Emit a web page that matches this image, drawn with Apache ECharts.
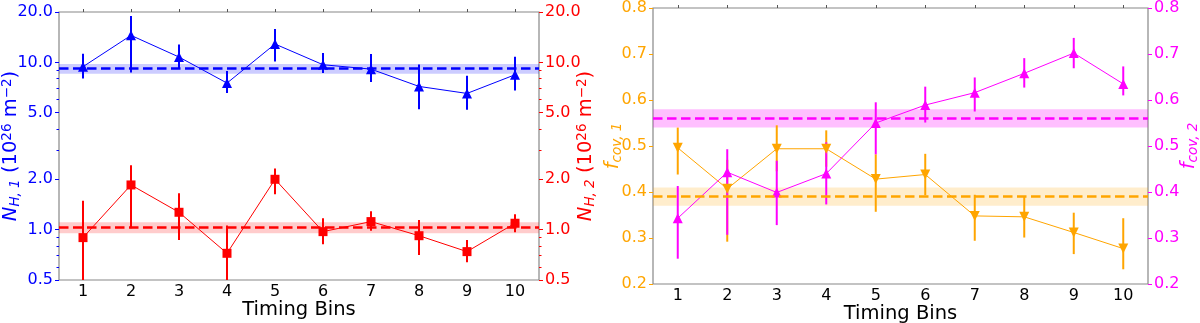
<!DOCTYPE html>
<html lang="en">
<head>
<meta charset="UTF-8">
<title>Timing bins</title>
<script src="https://cdn.jsdelivr.net/npm/echarts@6/dist/echarts.min.js"></script>
<style>
  html, body { margin: 0; padding: 0; background: #fff; }
</style>
</head>
<body>
<div id="main" style="width:1200px;height:323px;"></div>
<script>
// data
var bins = [1, 2, 3, 4, 5, 6, 7, 8, 9, 10];

var nh1   = [9.42, 14.5, 10.76, 7.52, 12.87, 9.68, 9.11, 7.18, 6.52, 8.43];
var nh1Lo = [8.02, 8.71, 9.2, 6.55, 10.13, 8.63, 7.62, 5.25, 5.2, 6.8];
var nh1Hi = [11.26, 18.9, 12.8, 8.87, 15.82, 11.37, 11.2, 9.72, 8.31, 10.81];

var nh2   = [0.896, 1.85, 1.27, 0.722, 2.0, 0.973, 1.117, 0.92, 0.739, 1.092];
var nh2Lo = [0.4, 1.02, 0.868, 0.4, 1.63, 0.817, 0.986, 0.705, 0.638, 0.964];
var nh2Hi = [1.49, 2.43, 1.65, 1.057, 2.32, 1.17, 1.29, 1.143, 0.868, 1.236];

var fcov1   = [0.496, 0.407, 0.494, 0.494, 0.428, 0.438, 0.348, 0.346, 0.312, 0.277];
var fcov1Lo = [0.438, 0.292, 0.445, 0.455, 0.357, 0.393, 0.294, 0.301, 0.265, 0.232];
var fcov1Hi = [0.540, 0.47, 0.545, 0.534, 0.482, 0.483, 0.394, 0.39, 0.355, 0.343];

var fcov2   = [0.343, 0.443, 0.399, 0.44, 0.55, 0.589, 0.616, 0.658, 0.702, 0.635];
var fcov2Lo = [0.255, 0.307, 0.328, 0.373, 0.482, 0.551, 0.575, 0.627, 0.669, 0.61];
var fcov2Hi = [0.413, 0.493, 0.468, 0.508, 0.595, 0.629, 0.649, 0.691, 0.735, 0.673];

// mean values and their ranges
var nh1Mean = 9.2,   nh1Band = [8.55, 9.77];
var nh2Mean = 1.028, nh2Band = [0.95, 1.107];
var fcov1Mean = 0.39, fcov1Band = [0.37, 0.41];
var fcov2Mean = 0.56, fcov2Band = [0.54, 0.58];

var logTicks = [0.5, 1, 2, 5, 10, 20];
var logMinor = [0.6, 0.7, 0.8, 0.9, 3, 4, 6, 7, 8, 9];

var FONT = 'DejaVu Sans';
var SPINE = '#888888';
var BLUE = '#0000ff', RED = '#ff0000', ORANGE = '#ffa500', MAGENTA = '#ff00ff';
var TICK_FS = 16, NAME_FS = 19.5, SUB_FS = 13.5;

function zip(lo, hi) {
    var d = [];
    for (var i = 0; i < bins.length; i++) d.push([bins[i], lo[i], hi[i]]);
    return d;
}
function pts(v) {
    var d = [];
    for (var i = 0; i < bins.length; i++) d.push([bins[i], v[i]]);
    return d;
}

// vertical error bar, clipped to the grid
function errRender(color) {
    return function (params, api) {
        var cs = params.coordSys;
        var a = api.coord([api.value(0), api.value(1)]);
        var b = api.coord([api.value(0), api.value(2)]);
        var top = cs.y, bot = cs.y + cs.height;
        var y1 = Math.min(Math.max(a[1], top), bot);
        var y2 = Math.min(Math.max(b[1], top), bot);
        return {
            type: 'line',
            shape: {x1: a[0], y1: y1, x2: b[0], y2: y2},
            style: {stroke: color, lineWidth: 2}
        };
    };
}

function yName(sym, sub, unit) {
    var s = '{i|' + sym + '}{sub|' + sub + '}';
    if (unit) s += '{n| (10}{sup|26}{n| m}{sup|\u22122}{n|)}';
    return s;
}
function nameStyle(color) {
    return {
        color: color, fontFamily: FONT, fontSize: NAME_FS,
        rich: {
            i:   {color: color, fontFamily: FONT, fontSize: NAME_FS, fontStyle: 'italic', lineHeight: 22, verticalAlign: 'middle'},
            n:   {color: color, fontFamily: FONT, fontSize: NAME_FS, lineHeight: 22, verticalAlign: 'middle'},
            sub: {color: color, fontFamily: FONT, fontSize: SUB_FS, fontStyle: 'italic', lineHeight: 14, verticalAlign: 'bottom', padding: [6, 0, 0, 0]},
            sup: {color: color, fontFamily: FONT, fontSize: SUB_FS, lineHeight: 14, verticalAlign: 'top', padding: [0, 0, 4, 0]}
        }
    };
}

function logAxis(grid, pos, color, name, gap) {
    return {
        type: 'log', logBase: 10, gridIndex: grid, position: pos,
        min: 0.5, max: 20,
        name: name, nameLocation: 'middle', nameGap: gap, nameRotate: 90,
        nameMoveOverlap: false,
        nameTextStyle: nameStyle(color),
        axisLine: {show: false},
        axisTick: {show: true, length: 4, customValues: logTicks, lineStyle: {color: color}},
        axisLabel: {show: true, customValues: logTicks, color: color, fontFamily: FONT, fontSize: TICK_FS, margin: 6,
            formatter: function (v) { return Number(v).toFixed(1); }},
        splitLine: {show: false}
    };
}
function minorAxis(grid, pos, color) {
    return {
        type: 'log', logBase: 10, gridIndex: grid, position: pos,
        min: 0.5, max: 20,
        axisLine: {show: false},
        axisTick: {show: true, length: 2.5, customValues: logMinor, lineStyle: {color: color}},
        axisLabel: {show: false},
        splitLine: {show: false}
    };
}
function linAxis(grid, pos, color, name, gap) {
    return {
        type: 'value', gridIndex: grid, position: pos,
        min: 0.2, max: 0.8, interval: 0.1,
        name: name, nameLocation: 'middle', nameGap: gap, nameRotate: 90,
        nameMoveOverlap: false,
        nameTextStyle: nameStyle(color),
        axisLine: {show: false},
        axisTick: {show: true, length: 4, lineStyle: {color: color}},
        axisLabel: {color: color, fontFamily: FONT, fontSize: TICK_FS, margin: 6,
            formatter: function (v) { return Number(v).toFixed(1); }},
        splitLine: {show: false}
    };
}
function binAxis(grid) {
    return {
        type: 'value', gridIndex: grid, position: 'bottom',
        min: 0.5, max: 10.5,
        name: 'Timing Bins', nameLocation: 'middle', nameGap: 20,
        nameMoveOverlap: false,
        nameTextStyle: {color: '#000', fontFamily: FONT, fontSize: NAME_FS},
        axisLine: {show: false},
        axisTick: {show: false},
        axisLabel: {customValues: bins, color: '#000', fontFamily: FONT, fontSize: TICK_FS, margin: 4},
        splitLine: {show: false}
    };
}
function topAxis(grid) {
    return {
        type: 'value', gridIndex: grid, position: 'top',
        min: 0.5, max: 10.5,
        axisLine: {show: false},
        axisTick: {show: true, length: 3, customValues: bins, lineStyle: {color: '#555'}},
        axisLabel: {show: false},
        splitLine: {show: false}
    };
}

function errSeries(xi, yi, lo, hi, color, mean, band, bandColor) {
    return {
        type: 'custom', xAxisIndex: xi, yAxisIndex: yi,
        renderItem: errRender(color),
        encode: {x: 0, y: [1, 2]},
        data: zip(lo, hi),
        z: 3,
        markArea: {
            silent: true,
            itemStyle: {color: bandColor},
            data: [[{yAxis: band[0]}, {yAxis: band[1]}]]
        },
        markLine: {
            silent: true, symbol: 'none',
            label: {show: false},
            lineStyle: {color: color, width: 2.6, type: [9.5, 4.5]},
            data: [{yAxis: mean}]
        }
    };
}
function ptSeries(xi, yi, v, color, symbol, rot, size) {
    return {
        type: 'line', xAxisIndex: xi, yAxisIndex: yi,
        data: pts(v),
        symbol: symbol, symbolSize: size, symbolRotate: rot,
        showAllSymbol: true,
        lineStyle: {color: color, width: 1},
        itemStyle: {color: color, borderWidth: 0},
        z: 4
    };
}

var chart = echarts.init(document.getElementById('main'));
chart.setOption({
    animation: false,
    backgroundColor: '#fff',
    grid: [
        {left: 59, right: 661, top: 12, bottom: 43, show: true, borderColor: SPINE, borderWidth: 1.2, outerBoundsMode: 'none'},
        {left: 653, right: 52, top: 8, bottom: 39, show: true, borderColor: SPINE, borderWidth: 1.2, outerBoundsMode: 'none'}
    ],
    xAxis: [binAxis(0), binAxis(1), topAxis(0), topAxis(1)],
    yAxis: [
        logAxis(0, 'left', BLUE, yName('N', 'H, 1', true), 37),
        logAxis(0, 'right', RED, yName('N', 'H, 2', true), 36),
        linAxis(1, 'left', ORANGE, yName('f', 'cov, 1', false), 29),
        linAxis(1, 'right', MAGENTA, yName('f', 'cov, 2', false), 30),
        minorAxis(0, 'left', BLUE),
        minorAxis(0, 'right', RED)
    ],
    series: [
        errSeries(0, 0, nh1Lo, nh1Hi, BLUE, nh1Mean, nh1Band, 'rgba(0,0,255,0.2)'),
        ptSeries(0, 0, nh1, BLUE, 'triangle', 0, 10),
        errSeries(0, 1, nh2Lo, nh2Hi, RED, nh2Mean, nh2Band, 'rgba(255,0,0,0.2)'),
        ptSeries(0, 1, nh2, RED, 'rect', 0, 9),
        errSeries(1, 2, fcov1Lo, fcov1Hi, ORANGE, fcov1Mean, fcov1Band, 'rgba(255,165,0,0.2)'),
        ptSeries(1, 2, fcov1, ORANGE, 'triangle', 180, 10),
        errSeries(1, 3, fcov2Lo, fcov2Hi, MAGENTA, fcov2Mean, fcov2Band, 'rgba(255,0,255,0.25)'),
        ptSeries(1, 3, fcov2, MAGENTA, 'triangle', 0, 10)
    ]
});
</script>
</body>
</html>
